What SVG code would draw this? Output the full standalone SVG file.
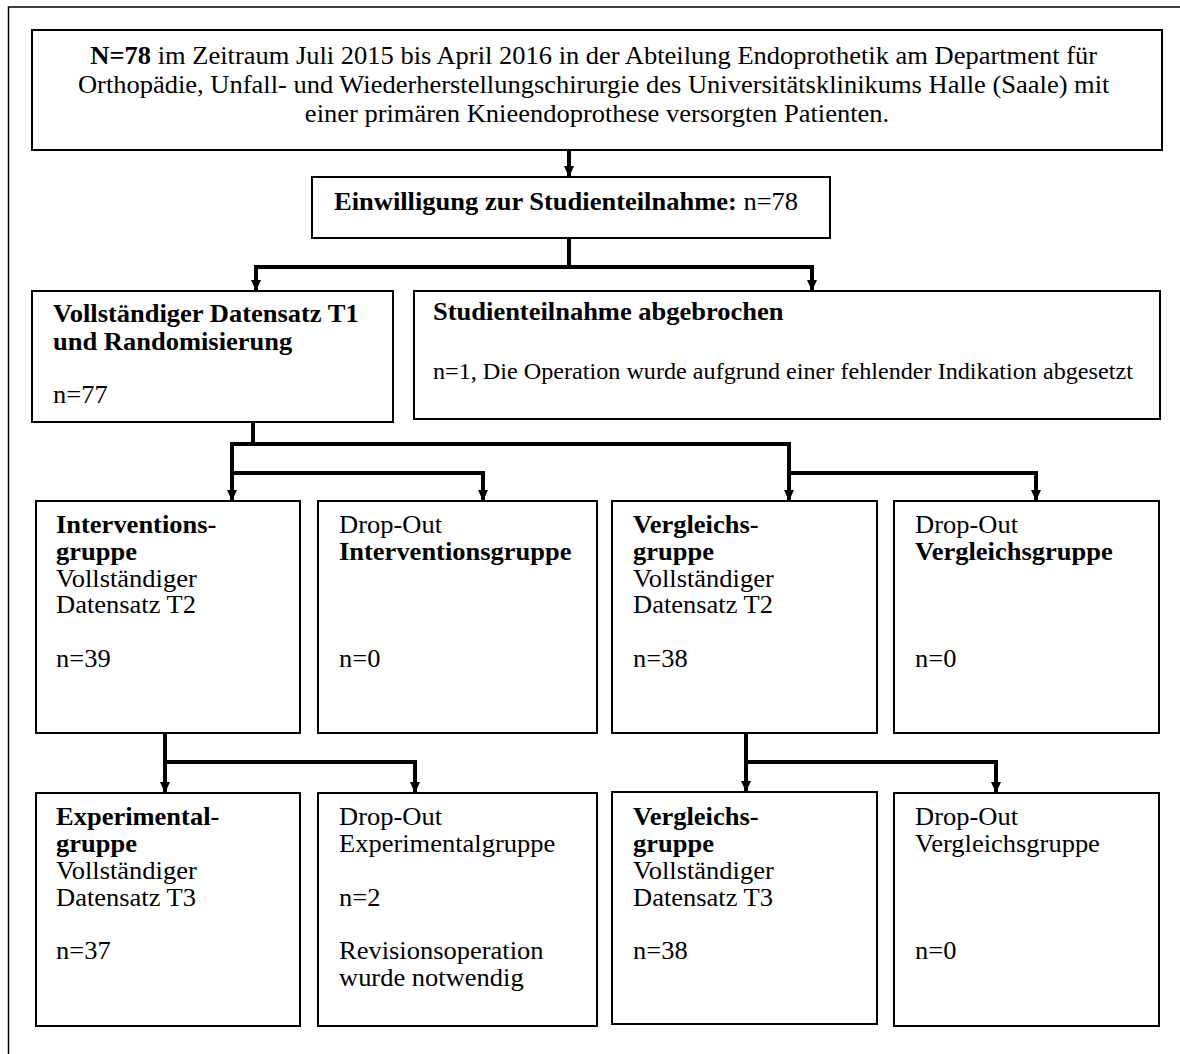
<svg xmlns="http://www.w3.org/2000/svg" width="1180" height="1054" viewBox="0 0 1180 1054">
<style>
  .box { fill: #fff; stroke: #000; stroke-width: 2; }
  .t { font-family: 'Liberation Serif', 'Times New Roman', Times, serif; font-size: 25px; fill: #000; }
  .b { font-weight: bold; }
  .c { fill: none; stroke: #000; stroke-width: 4; stroke-linejoin: miter; stroke-linecap: butt; }
</style>
<defs>
  <marker id="ah" markerUnits="userSpaceOnUse" markerWidth="12" markerHeight="12" viewBox="0 0 12 12" refX="11" refY="6" orient="auto">
    <path d="M0,1 L11,6 L0,11 Z" fill="#000"/>
  </marker>
</defs>
<rect x="0" y="0" width="1180" height="1054" fill="#fff"/>
<rect x="8.5" y="7" width="1200" height="1100" fill="none" stroke="#000" stroke-width="1.5"/>

<g id="connectors">
  <path class="c" d="M569,150 V177" marker-end="url(#ah)"/>
  <path class="c" d="M569,238 V267"/>
  <path class="c" d="M256,267 H812"/>
  <path class="c" d="M256,265 V291" marker-end="url(#ah)"/>
  <path class="c" d="M812,265 V291" marker-end="url(#ah)"/>
  <path class="c" d="M253,422 V444"/>
  <path class="c" d="M230,444 H791"/>
  <path class="c" d="M232,442 V501" marker-end="url(#ah)"/>
  <path class="c" d="M232,473 H483 V501" marker-end="url(#ah)"/>
  <path class="c" d="M789,442 V501" marker-end="url(#ah)"/>
  <path class="c" d="M789,473 H1036 V501" marker-end="url(#ah)"/>
  <path class="c" d="M165,733 V793" marker-end="url(#ah)"/>
  <path class="c" d="M165,762 H415 V793" marker-end="url(#ah)"/>
  <path class="c" d="M746,733 V792" marker-end="url(#ah)"/>
  <path class="c" d="M746,762 H996 V793" marker-end="url(#ah)"/>
</g>

<g id="n-top">
  <rect class="box" x="32" y="30" width="1130" height="120"/>
  <text class="t" text-anchor="middle" transform="translate(597 0) scale(1.06 1)">
    <tspan x="0" y="64"><tspan class="b">N=78</tspan> im Zeitraum Juli 2015 bis April 2016 in der Abteilung Endoprothetik am Department für</tspan>
    <tspan x="0" y="93">Orthopädie, Unfall- und Wiederherstellungschirurgie des Universitätsklinikums Halle (Saale) mit</tspan>
    <tspan x="0" y="122">einer primären Knieendoprothese versorgten Patienten.</tspan>
  </text>
</g>

<g id="n-einwilligung">
  <rect class="box" x="312" y="177" width="518" height="61"/>
  <text class="t" transform="translate(334 0) scale(1.06 1)"><tspan x="0" y="210"><tspan class="b">Einwilligung zur Studienteilnahme:</tspan> n=78</tspan></text>
</g>

<g id="n-t1">
  <rect class="box" x="32" y="291" width="361" height="131"/>
  <text class="t" transform="translate(53 0) scale(1.06 1)">
    <tspan class="b" x="0" y="322">Vollständiger Datensatz T1</tspan>
    <tspan class="b" x="0" y="350">und Randomisierung</tspan>
    <tspan x="0" y="403">n=77</tspan>
  </text>
</g>

<g id="n-abgebrochen">
  <rect class="box" x="414" y="291" width="746" height="128"/>
  <text class="t" transform="translate(433 0) scale(1.06 1)">
    <tspan class="b" x="0" y="320">Studienteilnahme abgebrochen</tspan>
    <tspan x="0" y="379" font-size="22.8">n=1, Die Operation wurde aufgrund einer fehlender Indikation abgesetzt</tspan>
  </text>
</g>

<g id="n-intervention">
  <rect class="box" x="36" y="501" width="264" height="232"/>
  <text class="t" transform="translate(56 0) scale(1.06 1)">
    <tspan class="b" x="0" y="533">Interventions-</tspan>
    <tspan class="b" x="0" y="560">gruppe</tspan>
    <tspan x="0" y="587">Vollständiger</tspan>
    <tspan x="0" y="613">Datensatz T2</tspan>
    <tspan x="0" y="667">n=39</tspan>
  </text>
</g>

<g id="n-dropout-intervention">
  <rect class="box" x="318" y="501" width="279" height="232"/>
  <text class="t" transform="translate(339 0) scale(1.06 1)">
    <tspan x="0" y="533">Drop-Out</tspan>
    <tspan class="b" x="0" y="560">Interventionsgruppe</tspan>
    <tspan x="0" y="667">n=0</tspan>
  </text>
</g>

<g id="n-vergleich">
  <rect class="box" x="612" y="501" width="265" height="232"/>
  <text class="t" transform="translate(633 0) scale(1.06 1)">
    <tspan class="b" x="0" y="533">Vergleichs-</tspan>
    <tspan class="b" x="0" y="560">gruppe</tspan>
    <tspan x="0" y="587">Vollständiger</tspan>
    <tspan x="0" y="613">Datensatz T2</tspan>
    <tspan x="0" y="667">n=38</tspan>
  </text>
</g>

<g id="n-dropout-vergleich">
  <rect class="box" x="894" y="501" width="265" height="232"/>
  <text class="t" transform="translate(915 0) scale(1.06 1)">
    <tspan x="0" y="533">Drop-Out</tspan>
    <tspan class="b" x="0" y="560">Vergleichsgruppe</tspan>
    <tspan x="0" y="667">n=0</tspan>
  </text>
</g>

<g id="n-experimental">
  <rect class="box" x="36" y="793" width="264" height="233"/>
  <text class="t" transform="translate(56 0) scale(1.06 1)">
    <tspan class="b" x="0" y="825">Experimental-</tspan>
    <tspan class="b" x="0" y="852">gruppe</tspan>
    <tspan x="0" y="879">Vollständiger</tspan>
    <tspan x="0" y="906">Datensatz T3</tspan>
    <tspan x="0" y="959">n=37</tspan>
  </text>
</g>

<g id="n-dropout-experimental">
  <rect class="box" x="318" y="793" width="279" height="233"/>
  <text class="t" transform="translate(339 0) scale(1.06 1)">
    <tspan x="0" y="825">Drop-Out</tspan>
    <tspan x="0" y="852">Experimentalgruppe</tspan>
    <tspan x="0" y="906">n=2</tspan>
    <tspan x="0" y="959">Revisionsoperation</tspan>
    <tspan x="0" y="986">wurde notwendig</tspan>
  </text>
</g>

<g id="n-vergleich-t3">
  <rect class="box" x="612" y="792" width="265" height="232"/>
  <text class="t" transform="translate(633 0) scale(1.06 1)">
    <tspan class="b" x="0" y="825">Vergleichs-</tspan>
    <tspan class="b" x="0" y="852">gruppe</tspan>
    <tspan x="0" y="879">Vollständiger</tspan>
    <tspan x="0" y="906">Datensatz T3</tspan>
    <tspan x="0" y="959">n=38</tspan>
  </text>
</g>

<g id="n-dropout-vergleich-t3">
  <rect class="box" x="894" y="793" width="265" height="233"/>
  <text class="t" transform="translate(915 0) scale(1.06 1)">
    <tspan x="0" y="825">Drop-Out</tspan>
    <tspan x="0" y="852">Vergleichsgruppe</tspan>
    <tspan x="0" y="959">n=0</tspan>
  </text>
</g>
</svg>
